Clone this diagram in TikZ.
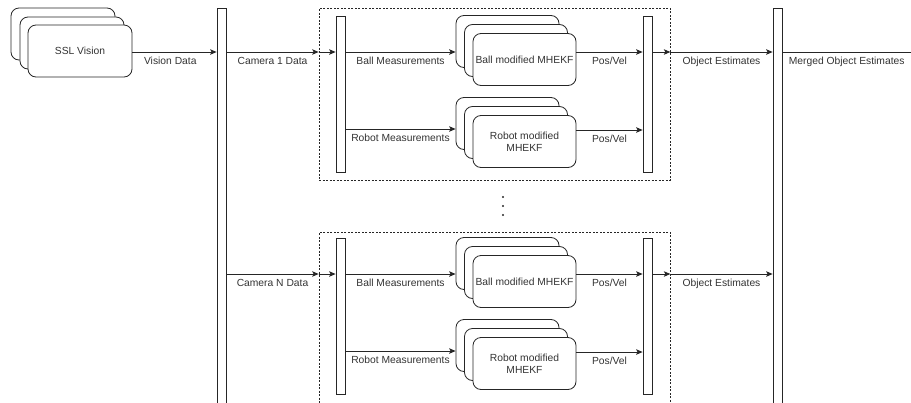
\documentclass[tikz,border=0pt]{standalone}
\usepackage{fontspec}
\setmainfont{Liberation Sans}
\usetikzlibrary{arrows.meta}

\tikzset{
  lbl/.style={inner sep=0pt, font=\fontsize{10.3}{12}\selectfont, text=black!80},
  card/.style={draw=black!85, line width=0.8pt, fill=white, rounded corners=8pt,
               minimum width=103pt, minimum height=52pt, inner sep=0pt,
               font=\fontsize{10.3}{12}\selectfont, text=black!80, align=center},
  bar/.style={draw=black!85, line width=0.8pt, fill=white, minimum width=9pt, inner sep=0pt},
  group/.style={draw=black!85, line width=0.7pt, dashed, dash pattern=on 2pt off 1.5pt},
  arr/.style={draw=black!85, line width=0.8pt, -{Stealth[length=6.5pt,width=5.5pt,inset=1.5pt]}},
  plain/.style={draw=black!85, line width=0.8pt},
}

\begin{document}
\begin{tikzpicture}[x=1pt, y=-1pt]
\useasboundingbox (0,0) rectangle (911,402);
\clip (0,0) rectangle (911,402);

% camera source (stacked cards)
\node[card, minimum width=104pt] (ssl3) at (63,34) {};
\node[card, minimum width=104pt] (ssl2) at (72,43) {};
\node[card, minimum width=104pt] (ssl1) at (80,51) {SSL Vision};

% split / merge bars spanning the whole height
\node[bar, minimum height=420pt] (split) at (221.5,218) {};
\node[bar, minimum height=420pt] (merge) at (777.5,218) {};

% row heights
\coordinate (rV) at (0,52);

\draw[arr] (ssl1.east |- rV) -- (split.west |- rV)
  node[lbl, pos=0.45, below=5pt] {Vision Data};

% one tracker group per camera
\foreach \dy/\gy/\s/\cam in {0/94/A/1, 222/96/B/N} {
  \begin{scope}[yshift=-\dy pt]
    \node[group, minimum width=351pt, minimum height=172pt, inner sep=0pt] (grp\s) at (494.5,\gy) {};
    \node[bar, minimum height=156pt] (in\s) at (340.5,94) {};
    \node[bar, minimum height=156pt] (out\s) at (647.5,94) {};

    \coordinate (ball\s) at (0,52);
    \coordinate (rob\s) at (0,129);

    % ball filter stack
    \node[card] (bc\s) at (507.5,41.5) {};
    \node[card] (bb\s) at (516,50.5) {};
    \node[card] (ba\s) at (524.5,59.5) {Ball modified MHEKF};
    % robot filter stack
    \node[card] (rc\s) at (507.5,123.5) {};
    \node[card] (rb\s) at (516,132.5) {};
    \node[card] (ra\s) at (524.5,141.5) {Robot modified\\MHEKF};

    \draw[arr] (grp\s.west |- ball\s) -- (in\s.west |- ball\s);
    \draw[arr] (in\s.east |- ball\s) -- (bc\s.west |- ball\s)
      node[lbl, midway, below=5pt] {Ball Measurements};
    \draw[arr] (in\s.east |- rob\s) -- (rc\s.west |- rob\s)
      node[lbl, midway, below=5pt] {Robot Measurements};
    \draw[arr] (ba\s.east |- ball\s) -- (out\s.west |- ball\s)
      node[lbl, midway, below=5pt] {Pos/Vel};
    \draw[arr] (ra\s.east |- rob\s) ++(0,1) coordinate (ro\s) -- (out\s.west |- ro\s)
      node[lbl, midway, below=5pt] {Pos/Vel};
    \draw[arr] (out\s.east |- ball\s) -- (grp\s.east |- ball\s);
    \draw[arr] (grp\s.east |- ball\s) -- (merge.west |- ball\s)
      node[lbl, midway, below=5pt] {Object Estimates};
    \draw[arr] (split.east |- ball\s) -- (grp\s.west |- ball\s)
      node[lbl, midway, below=5pt] {Camera \cam{} Data};
  \end{scope}
}

% further cameras
\node[circle, fill=black!85, inner sep=0.8pt] (d1) at (503,197) {};
\node[circle, fill=black!85, inner sep=0.8pt] (d2) at (503,206) {};
\node[circle, fill=black!85, inner sep=0.8pt] (d3) at (503,215) {};

% merged output leaving the picture
\coordinate (outEnd) at (911,52);
\draw[plain] (merge.east |- rV) -- (outEnd)
  node[lbl, pos=0.5, below=5pt] {Merged Object Estimates};
\end{tikzpicture}
\end{document}
